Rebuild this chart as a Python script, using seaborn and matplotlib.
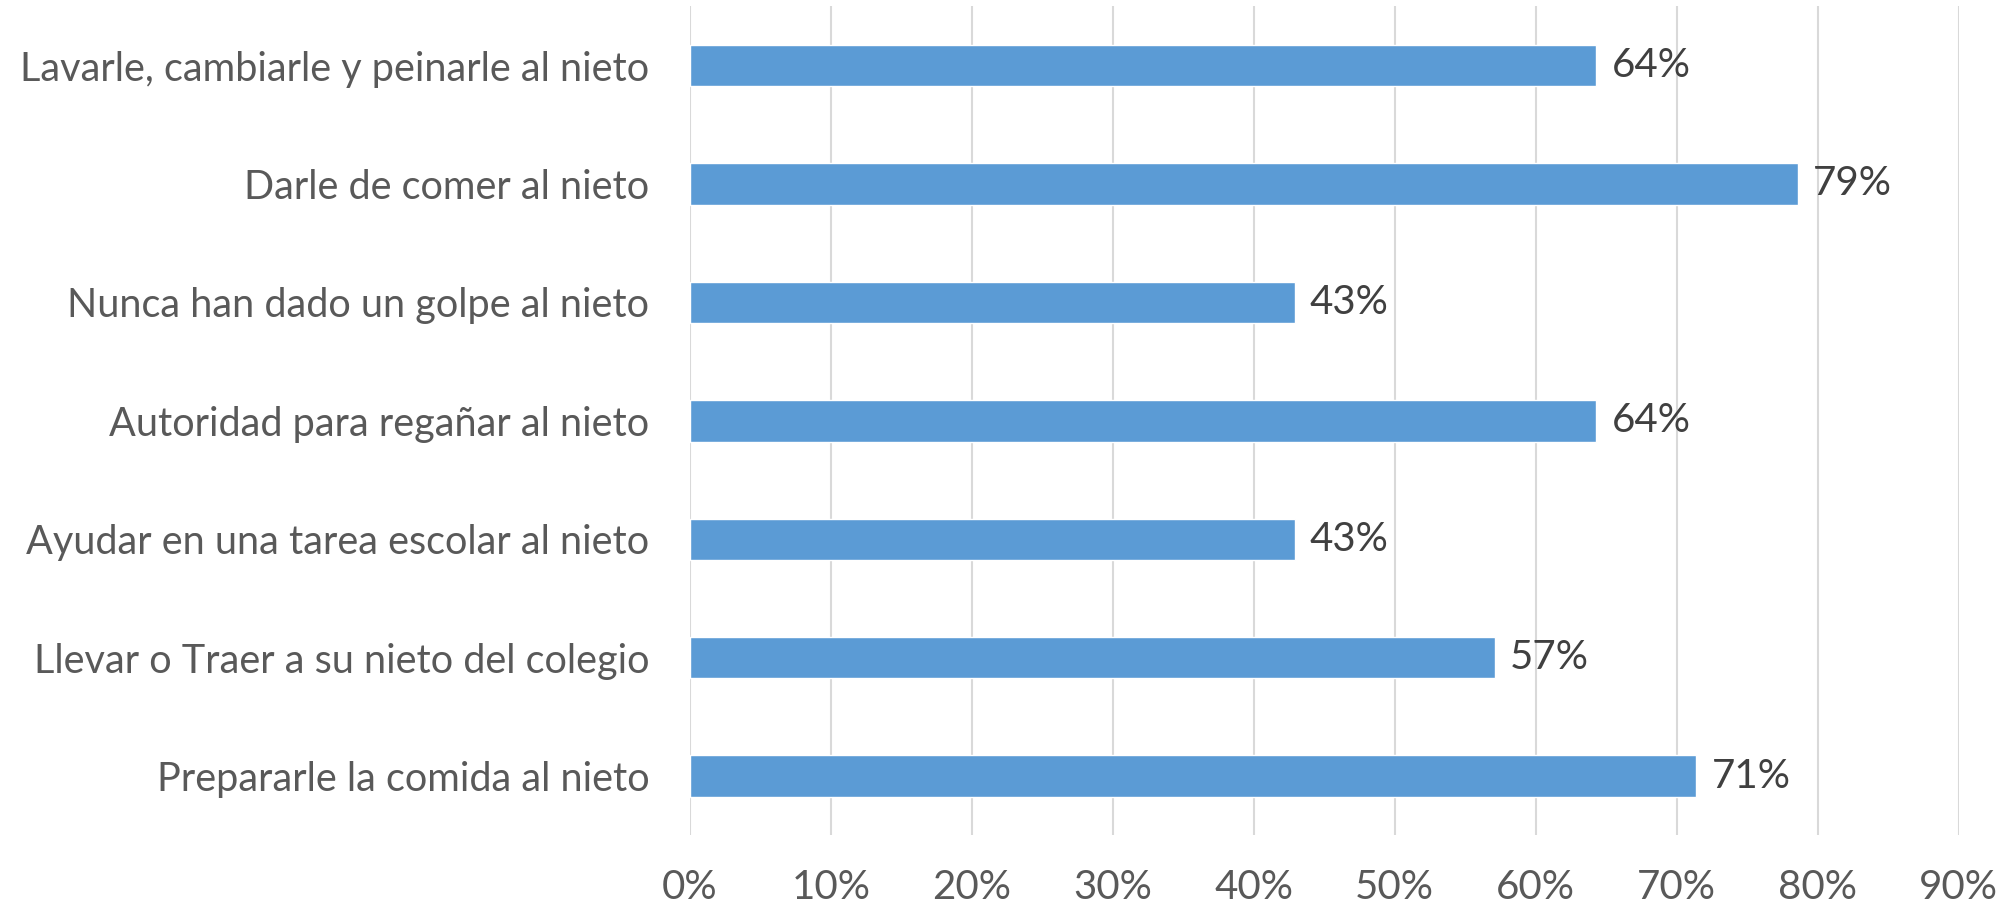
import seaborn as sns
import matplotlib.pyplot as plt
import pandas as pd

categories = [
    'Lavarle, cambiarle y peinarle al nieto',
    'Darle de comer al nieto',
    'Nunca han dado un golpe al nieto',
    'Autoridad para regañar al nieto',
    'Ayudar en una tarea escolar al nieto',
    'Llevar o Traer a su nieto del colegio',
    'Prepararle la comida al nieto',
]
values = [0.643, 0.786, 0.429, 0.643, 0.429, 0.571, 0.714]
labels = ['64%', '79%', '43%', '64%', '43%', '57%', '71%']
xticks = [0, 0.1, 0.2, 0.3, 0.4, 0.5, 0.6, 0.7, 0.8, 0.9]

df = pd.DataFrame({'cat': categories, 'val': values})

sns.set_style('white')
plt.rcParams['font.family'] = ['Lato', 'DejaVu Sans']

fig = plt.figure(figsize=(20.11, 9.06), dpi=100)
ax = fig.add_axes([0.343, 0.078, 0.631, 0.915])

sns.barplot(x='val', y='cat', data=df, color='#5B9BD5', width=0.35,
            saturation=1, ax=ax, zorder=3)

ax.set_xlim(0, 0.9)
ax.set_ylim(6.5, -0.5)
ax.set_xticks(xticks)
ax.set_xticklabels([f'{int(round(t * 100))}%' for t in xticks])
ax.xaxis.grid(True, color='#D9D9D9', linewidth=1.5, zorder=0)
ax.set_axisbelow(True)
for s in ['top', 'right', 'bottom', 'left']:
    ax.spines[s].set_visible(False)
ax.tick_params(axis='x', length=0, pad=24, labelsize=29, labelcolor='#595959')
ax.tick_params(axis='y', length=0, pad=29, labelsize=28.5, labelcolor='#595959')
ax.set_xlabel('')
ax.set_ylabel('')

for i, (v, lab) in enumerate(zip(values, labels)):
    ax.annotate(lab, (v, i), xytext=(11, 0), textcoords='offset points',
                va='center', ha='left', fontsize=29, color='#404040')

fig.savefig('out.png', dpi=100)
